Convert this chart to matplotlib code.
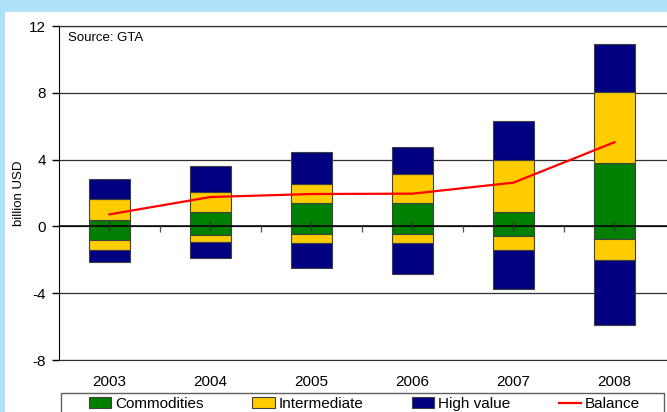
import numpy as np
import matplotlib
matplotlib.use("Agg")
import matplotlib.pyplot as plt
from matplotlib.patches import Rectangle, Patch
from matplotlib.lines import Line2D

# values (billion USD)
years = ["2003", "2004", "2005", "2006", "2007", "2008"]
commod_pos = [0.38, 0.84, 1.42, 1.42, 0.88, 3.80]
inter_pos = [1.28, 1.20, 1.14, 1.70, 3.08, 4.23]
high_pos = [1.16, 1.58, 1.88, 1.64, 2.37, 2.90]
commod_neg = [-0.80, -0.52, -0.44, -0.46, -0.60, -0.74]
inter_neg = [-0.60, -0.42, -0.56, -0.54, -0.84, -1.26]
high_neg = [-0.76, -0.96, -1.52, -1.84, -2.28, -3.90]
balance = [0.72, 1.76, 1.94, 1.96, 2.62, 5.04]

green = "#008000"
yellow = "#FFCC00"
navy = "#000080"
edge = "#404040"

plt.rcParams['font.family'] = ['Liberation Sans', 'DejaVu Sans']

fig = plt.figure(figsize=(6.67, 4.12), dpi=100, facecolor="#ADE2F8")
# white chart area inside the blue border
fig.patches.append(Rectangle((5 / 667, 0), 1, 1 - 12 / 412, transform=fig.transFigure,
                             facecolor="white", edgecolor="none", zorder=-5))
# legend frame (runs off the bottom of the picture)
fig.patches.append(Rectangle((60.5 / 667, -0.05), 603 / 667, 0.05 + 1 - 393 / 412,
                             transform=fig.transFigure, facecolor="none",
                             edgecolor="#606060", linewidth=1, zorder=5))

ax = fig.add_axes([59 / 667, 52 / 412, 608 / 667, 334 / 412])
ax.set_facecolor("white")
x = np.arange(len(years))
w = 0.40

# positive stack
b1 = np.array(commod_pos)
b2 = b1 + np.array(inter_pos)
ax.bar(x, commod_pos, w, color=green, edgecolor=edge, linewidth=0.8, zorder=3)
ax.bar(x, inter_pos, w, bottom=b1, color=yellow, edgecolor=edge, linewidth=0.8, zorder=3)
ax.bar(x, high_pos, w, bottom=b2, color=navy, edgecolor=edge, linewidth=0.8, zorder=3)
# negative stack
n1 = np.array(commod_neg)
n2 = n1 + np.array(inter_neg)
ax.bar(x, commod_neg, w, color=green, edgecolor=edge, linewidth=0.8, zorder=3)
ax.bar(x, inter_neg, w, bottom=n1, color=yellow, edgecolor=edge, linewidth=0.8, zorder=3)
ax.bar(x, high_neg, w, bottom=n2, color=navy, edgecolor=edge, linewidth=0.8, zorder=3)

ax.plot(x, balance, color="#FF0000", linewidth=1.6, zorder=5)

ax.set_xlim(-0.5, 5.52)
ax.set_ylim(-8, 12)
ax.set_yticks([-8, -4, 0, 4, 8, 12])
ax.set_yticklabels(["-8", "-4", "0", "4", "8", "12"])
ax.tick_params(axis="y", direction="out", length=5, width=1, labelsize=11, pad=4.5)
ax.set_xticks(x)
ax.set_xticklabels(years)
ax.tick_params(axis="x", length=0, labelsize=11, pad=11)
ax.grid(axis="y", color="#303030", linewidth=0.9, zorder=1)
ax.axhline(0, color="black", linewidth=1.1, zorder=4)

ax.spines["right"].set_visible(False)
ax.spines["top"].set_color("#303030")
ax.spines["top"].set_linewidth(0.9)
ax.spines["left"].set_color("black")
ax.spines["bottom"].set_color("#303030")

# category axis ticks on the zero line
ax2 = ax.twiny()
ax2.set_xlim(ax.get_xlim())
ax2.spines["bottom"].set_position(("data", 0))
for s in ["top", "right", "left", "bottom"]:
    ax2.spines[s].set_visible(False)
ax2.xaxis.set_ticks_position("bottom")
ax2.set_xticks(x)
ax2.set_xticks(x[:-1] + 0.5, minor=True)
ax2.tick_params(axis="x", which="major", direction="inout", length=7, width=0.9,
                color="#303030", labelbottom=False, labeltop=False)
ax2.tick_params(axis="x", which="minor", direction="out", length=4, width=0.9,
                color="#505050", labelbottom=False, labeltop=False)
ax2.set_zorder(ax.get_zorder() + 1)
ax2.patch.set_visible(False)

ax.set_ylabel("billion USD", fontsize=9.5, labelpad=3)
ax.text(0.015, 0.982, "Source: GTA", transform=ax.transAxes, fontsize=9.5,
        va="top", ha="left")

handles = [Patch(facecolor=green, edgecolor=edge, linewidth=0.8),
           Patch(facecolor=yellow, edgecolor=edge, linewidth=0.8),
           Patch(facecolor=navy, edgecolor=edge, linewidth=0.8),
           Line2D([0], [0], color="#FF0000", linewidth=1.6)]
labels = ["Commodities", "Intermediate", "High value", "Balance"]
leg = fig.legend(handles, labels, loc="upper left", ncol=4,
                 bbox_to_anchor=(89 / 667, 1 - 397 / 412),
                 fontsize=11, frameon=False, borderpad=0,
                 handlelength=1.45, handleheight=0.7, handletextpad=0.25,
                 columnspacing=3.2, borderaxespad=0)

fig.savefig("out.png", dpi=100, facecolor=fig.get_facecolor())
